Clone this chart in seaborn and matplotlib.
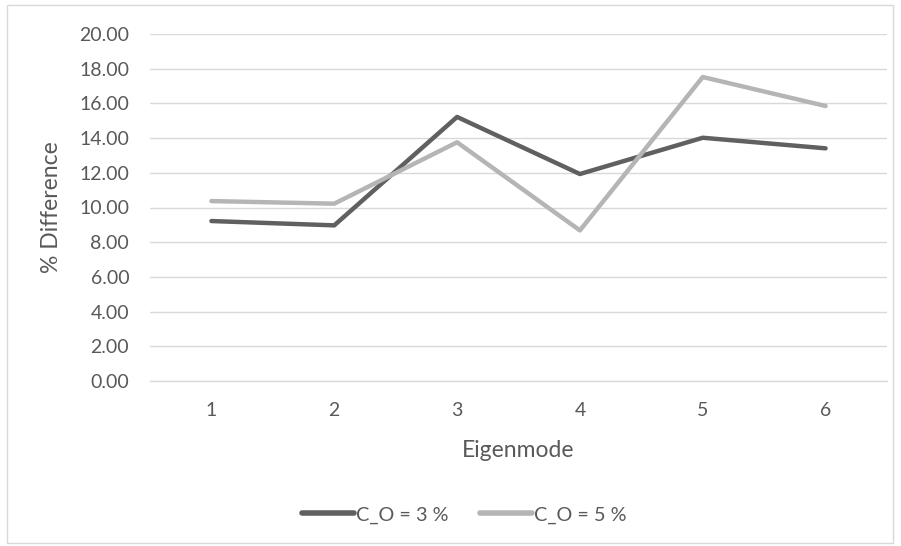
import matplotlib
matplotlib.use("Agg")
import matplotlib.pyplot as plt
import seaborn as sns
import pandas as pd
from matplotlib.patches import Rectangle

modes = ["1", "2", "3", "4", "5", "6"]
series_names = ["C_O = 3 %", "C_O = 5 %"]
co3_values = [9.22, 8.97, 15.22, 11.93, 14.02, 13.41]
co5_values = [10.37, 10.22, 13.76, 8.68, 17.52, 15.85]
y_ticks = [0, 2, 4, 6, 8, 10, 12, 14, 16, 18, 20]

df = pd.DataFrame({
    "Eigenmode": list(range(len(modes))) * 2,
    "Difference": co3_values + co5_values,
    "Series": [series_names[0]] * len(modes) + [series_names[1]] * len(modes),
})

sns.set_theme(style="white")
plt.rcParams["font.family"] = ["Lato", "DejaVu Sans"]

fig = plt.figure(figsize=(9.01, 5.46), dpi=100)
W, H = 901, 546
ax = fig.add_axes([150 / W, 1 - 381 / H, (887 - 150) / W, (381 - 34) / H])

palette = {series_names[0]: "#606060", series_names[1]: "#b5b5b5"}
sns.lineplot(data=df, x="Eigenmode", y="Difference", hue="Series",
             palette=palette, linewidth=3.2, ax=ax, legend=False,
             solid_capstyle="round")

ax.set_xlim(-0.5, len(modes) - 0.5)
ax.set_ylim(0, 20)
ax.set_yticks(y_ticks)
ax.set_yticklabels([f"{v:.2f}" for v in y_ticks])
ax.set_xticks(range(len(modes)))
ax.set_xticklabels(modes)
ax.yaxis.grid(True, color="#d9d9d9", linewidth=1.0)
ax.set_axisbelow(True)
for side in ["top", "right", "left"]:
    ax.spines[side].set_visible(False)
ax.spines["bottom"].set_color("#d9d9d9")
ax.spines["bottom"].set_linewidth(1.0)
ax.tick_params(axis="both", length=0, labelsize=14, colors="#595959")
ax.tick_params(axis="y", pad=15)
ax.tick_params(axis="x", pad=15)

ax.set_xlabel("Eigenmode", fontsize=16.5, color="#595959", labelpad=15)
ax.set_ylabel("% Difference", fontsize=16.5, color="#595959", labelpad=12)

handles = [plt.Line2D([0], [0], color=palette[s], linewidth=4,
                      solid_capstyle="round") for s in series_names]
fig.legend(handles, series_names, loc="center", bbox_to_anchor=(464 / W, 1 - 515 / H),
           ncol=2, frameon=False, fontsize=14.3, labelcolor="#595959",
           handlelength=2.6, handletextpad=0.1, columnspacing=1.6)

fig.patches.append(Rectangle((7 / W, 1 - 543 / H), (893 - 7) / W, (543 - 5) / H,
                             transform=fig.transFigure, fill=False,
                             edgecolor="#d9d9d9", linewidth=1.0))

fig.savefig("out.png", dpi=100, facecolor="white")
